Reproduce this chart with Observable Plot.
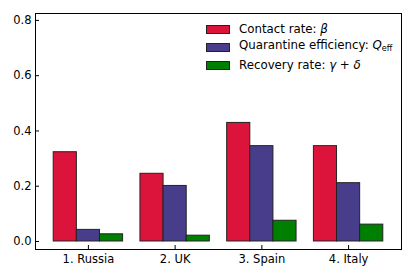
<!DOCTYPE html>
<html>
<head>
<meta charset="utf-8">
<script src="https://cdn.jsdelivr.net/npm/d3@7"></script>
<script src="https://cdn.jsdelivr.net/npm/@observablehq/plot@0.6"></script>
<style>
  html, body { margin: 0; padding: 0; background: #fff; }
  #wrap { position: relative; width: 415px; height: 277px; font-family: "DejaVu Sans", sans-serif; }
  #legend { position: absolute; left: 206px; top: 20px; font-size: 11.8px; color: #000; line-height: 18px; }
  #legend .row { display: flex; align-items: center; height: 18px; white-space: nowrap; }
  #legend .sw { width: 24px; height: 9px; border: 1px solid #222; margin-right: 9px; box-sizing: border-box; }
  #legend sub { font-size: 8px; vertical-align: -2px; }
</style>
</head>
<body>
<div id="wrap"></div>
<script>
const countries = ["1. Russia", "2. UK", "3. Spain", "4. Italy"];
const seriesNames = ["Contact rate", "Quarantine efficiency", "Recovery rate"];
const contactRate = [0.323, 0.245, 0.429, 0.345];
const quarantineEff = [0.042, 0.201, 0.345, 0.211];
const recoveryRate = [0.026, 0.021, 0.075, 0.061];
const colors = ["#DC143C", "#483D8B", "#008000"];
const legendHTML = ["Contact rate: <i>β</i>", "Quarantine efficiency: <i>Q</i><sub>eff</sub>", "Recovery rate: <i>γ</i> + <i>δ</i>"];
const yTicks = [0, 0.2, 0.4, 0.6, 0.8];

const seriesValues = [contactRate, quarantineEff, recoveryRate];
const w = 0.8 / 3;
const rows = [];
countries.forEach((c, i) => {
  seriesValues.forEach((vals, k) => {
    rows.push({country: c, i, k, series: seriesNames[k], value: vals[i]});
  });
});

const chart = Plot.plot({
  width: 415,
  height: 277,
  marginLeft: 35,
  marginRight: 14,
  marginTop: 13,
  marginBottom: 28,
  style: {fontFamily: "DejaVu Sans, sans-serif", fontSize: "11.5px", color: "#000", background: "#fff"},
  x: {domain: [-0.61, 3.61], axis: null},
  y: {domain: [-0.029, 0.825], axis: null},
  color: {domain: seriesNames, range: colors},
  marks: [
    Plot.rectY(rows, {
      x1: d => d.i + (d.k - 1.5) * w,
      x2: d => d.i + (d.k - 0.5) * w,
      y: "value",
      fill: "series",
      stroke: "#222",
      strokeWidth: 1
    }),
    Plot.axisX({anchor: "bottom", ticks: [0, 1, 2, 3], tickFormat: i => countries[i], tickSize: -4, tickPadding: 9, label: null, fontSize: 11.5}),
    Plot.axisY({anchor: "left", ticks: yTicks, tickFormat: d3.format(".1f"), tickSize: -4, tickPadding: 8, label: null, fontSize: 11.5}),
    Plot.frame({stroke: "#000", strokeWidth: 1})
  ]
});

const wrap = document.getElementById("wrap");
wrap.appendChild(chart);
const legend = document.createElement("div");
legend.id = "legend";
seriesNames.forEach((s, k) => {
  const row = document.createElement("div");
  row.className = "row";
  row.innerHTML = `<span class="sw" style="background:${colors[k]}"></span><span>${legendHTML[k]}</span>`;
  legend.appendChild(row);
});
wrap.appendChild(legend);
</script>
</body>
</html>
